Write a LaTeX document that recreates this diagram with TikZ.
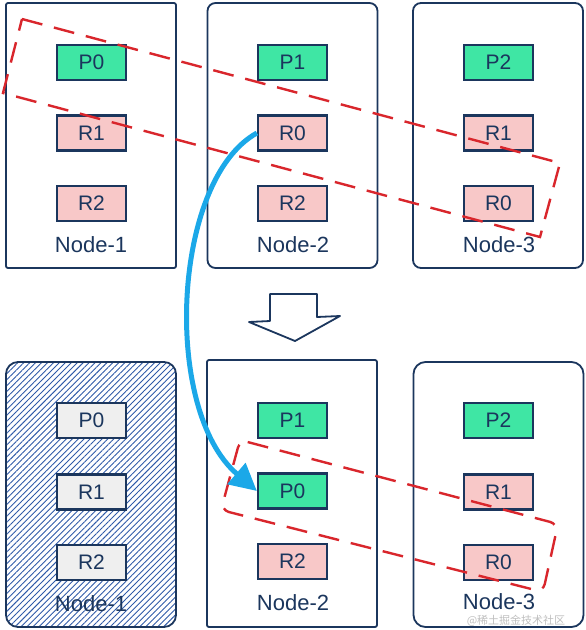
\documentclass[tikz,border=0pt]{standalone}
\usepackage{fontspec}
\setmainfont{Liberation Sans}
\newfontfamily\cjkfont{Noto Sans CJK SC}
\usetikzlibrary{patterns.meta,arrows.meta}
\definecolor{navy}{HTML}{1B365D}
\definecolor{hatch}{HTML}{2F5AA8}
\definecolor{pgreen}{HTML}{3FE6A4}
\definecolor{rpink}{HTML}{F8C8C8}
\definecolor{dred}{HTML}{D9262C}
\definecolor{arrowblue}{HTML}{1BA8E8}
\definecolor{lgray}{HTML}{EFEFEF}
\tikzset{
  server/.style={draw=navy, line width=1.8pt, fill=white, minimum width=170pt, minimum height=265pt, inner sep=0pt, rounded corners=3pt},
  part/.style={draw=navy, line width=2.2pt, minimum width=69pt, minimum height=35pt, inner sep=0pt, text=navy, font=\fontsize{21}{21}\selectfont},
  primary/.style={part, fill=pgreen},
  replica/.style={part, fill=rpink},
  dead/.style={part, fill=lgray},
  srvlabel/.style={text=navy, font=\fontsize{22}{22}\selectfont, inner sep=0pt},
  group/.style={draw=dred, line width=2.4pt, dash pattern=on 21pt off 12pt},
  move/.style={draw=arrowblue, line width=5pt, -{Triangle[length=27pt,width=27pt]}},
}
\begin{document}
\begin{tikzpicture}[x=1pt,y=-1pt]
\useasboundingbox (0,0) rectangle (586,630);

% ---------- top row ----------
\node[server, rounded corners=2pt] (t1) at (91,135.5) {};
\node[server, rounded corners=8pt] (t2) at (292.5,135.5) {};
\node[server, rounded corners=8pt] (t3) at (498,135.5) {};

\node[primary] (t1p0) at (91.5,62.5) {P0};
\node[replica] (t1r1) at (91.5,133) {R1};
\node[replica] (t1r2) at (91.5,203.5) {R2};
\node[srvlabel] (t1l) at (91,245) {Node-1};

\node[primary] (t2p1) at (292.5,62.5) {P1};
\node[replica] (t2r0) at (292.5,133) {R0};
\node[replica] (t2r2) at (292.5,203.5) {R2};
\node[srvlabel] (t2l) at (293,245) {Node-2};

\node[primary] (t3p2) at (498.5,62.5) {P2};
\node[replica] (t3r1) at (498.5,133) {R1};
\node[replica] (t3r0) at (498.5,203.5) {R0};
\node[srvlabel] (t3l) at (499,245) {Node-3};

\coordinate (ga) at (22,19);
\coordinate (gb) at (560,163);
\coordinate (gc) at (540,237);
\coordinate (gd) at (3,93);
\draw[group] (ga) -- (gb) -- (gc) -- (gd) -- cycle;

% ---------- transition arrow ----------
\draw[navy, line width=1.8pt, fill=white, line join=round]
  (270,294) -- (317,294) -- (317,317) -- (340,316) -- (295,341) -- (249,322) -- (270,321) -- cycle;

% ---------- bottom row ----------
\node[server, rounded corners=12pt, pattern={Lines[angle=45,distance=4.2pt,line width=0.9pt]}, pattern color=hatch] (b1) at (91,494.5) {};
\node[server, minimum height=267pt, rounded corners=2pt] (b2) at (292,493.5) {};
\node[server, rounded corners=12pt] (b3) at (498.5,494.5) {};

\node[dead] (b1p0) at (91.5,420.5) {P0};
\node[dead] (b1r1) at (91.5,492) {R1};
\node[dead] (b1r2) at (91.5,562.5) {R2};
\node[srvlabel] (b1l) at (91,604) {Node-1};

\node[primary] (b2p1) at (292.5,420.5) {P1};
\node[primary] (b2p0) at (292.5,491) {P0};
\node[replica] (b2r2) at (292.5,561.5) {R2};
\node[srvlabel] (b2l) at (293,603) {Node-2};

\node[primary] (b3p2) at (498.5,420.5) {P2};
\node[replica] (b3r1) at (498.5,492) {R1};
\node[replica] (b3r0) at (498.5,562.5) {R0};
\node[srvlabel] (b3l) at (499,602) {Node-3};

\coordinate (ha) at (240,440);
\coordinate (hb) at (558,524);
\coordinate (hc) at (543,592);
\coordinate (hd) at (221,510);
\draw[group, rounded corners=8pt] (ha) -- (hb) -- (hc) -- (hd) -- cycle;

% ---------- migration arrow ----------
\draw[move] (t2r0.west) .. controls (172,180) and (162,410) .. (b2p0.west);

% watermark
\node[text=gray, opacity=0.5, font=\cjkfont\fontsize{11}{11}\selectfont, inner sep=0pt] (wm) at (516,621) {@稀土掘金技术社区};
\end{tikzpicture}
\end{document}
